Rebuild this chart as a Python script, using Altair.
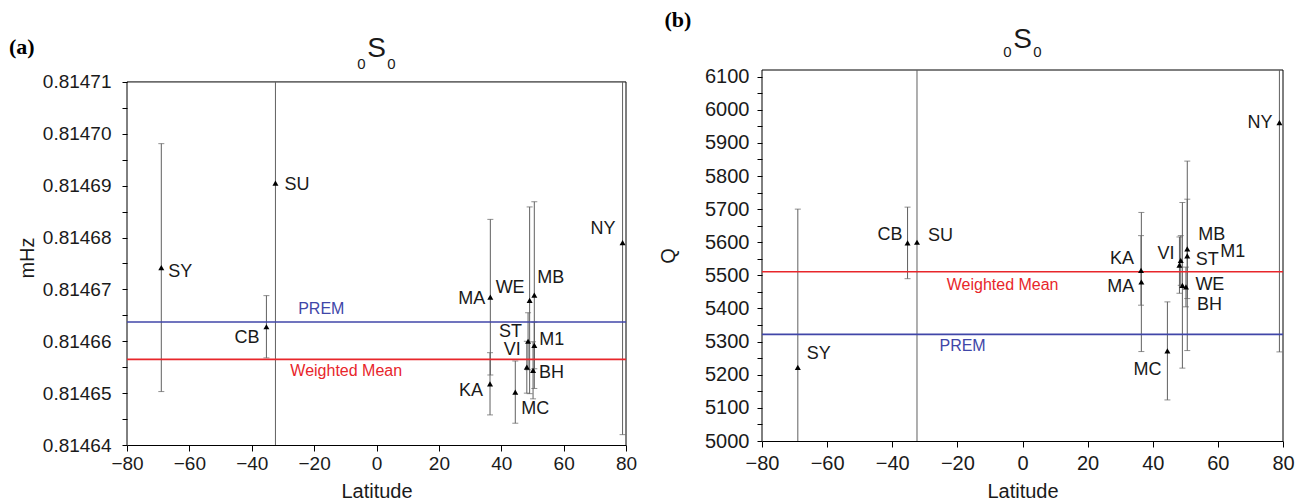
import altair as alt
import pandas as pd

# ---------------- data ----------------
stations = ["SY", "CB", "SU", "KA", "MA", "MC", "VI", "ST", "WE", "BH", "MB", "M1", "NY"]
latitude = [-69.0, -35.3, -32.4, 36.4, 36.5, 44.5, 48.2, 48.6, 49.1, 50.2, 50.6, 50.6, 78.9]

# panel (a): frequency (mHz) and 1-sigma errors
freq_mhz = [0.8146742, 0.8146628, 0.8146905, 0.8146518, 0.8146685, 0.8146502, 0.8146550,
            0.8146600, 0.8146679, 0.8146544, 0.8146689, 0.8146592, 0.8146790]
freq_err = [0.0000239, 0.0000060, 0.0000900, 0.0000060, 0.0000150, 0.0000060, 0.0000050,
            0.0000055, 0.0000180, 0.0000055, 0.0000180, 0.0000045, 0.0000370]

# panel (b): quality factor Q and errors
q_value = [5222, 5598, 5600, 5515, 5480, 5272, 5531, 5545, 5470, 5465, 5580, 5559, 5961]
q_err = [478, 108, 900, 105, 210, 148, 85, 75, 250, 60, 150, 286, 692]

prem_freq = 0.8146637
mean_freq = 0.8146565
prem_q = 5322
mean_q = 5511

lat_ticks = [-80, -60, -40, -20, 0, 20, 40, 60, 80]
freq_ticks = [0.81464, 0.814645, 0.81465, 0.814655, 0.81466, 0.814665, 0.81467, 0.814675,
              0.81468, 0.814685, 0.81469, 0.814695, 0.8147, 0.814705, 0.81471]
q_ticks = [5000, 5050, 5100, 5150, 5200, 5250, 5300, 5350, 5400, 5450, 5500, 5550, 5600,
           5650, 5700, 5750, 5800, 5850, 5900, 5950, 6000, 6050, 6100]

# ---------------- styling ----------------
FONT = "Liberation Sans"
TEXT = "#1a1a1a"
BAR = "#606060"
BLUE = "#4046a8"
RED = "#e8262b"

# label offsets (px) relative to each station's marker
offsets_a = {"SY": (7, 4), "SU": (9, 2), "CB": (-7, 11), "MA": (-5, 2), "WE": (-5, -12),
             "MB": (3, -17), "ST": (-6, -9), "M1": (5, -5), "VI": (-6, -17), "BH": (6, 3),
             "KA": (-7, 7), "MC": (6, 17), "NY": (-7, -14)}
offsets_b = {"SY": (9, -13), "CB": (-5, -8), "SU": (11, -6), "KA": (-7, -11), "MA": (-7, 5),
             "MC": (-6, 19), "VI": (-5, -11), "ST": (15, 0), "M1": (33, -4), "MB": (11, -14),
             "WE": (13, 0), "BH": (11, 18), "NY": (-7, 0)}


def make_panel(values, errors, y_domain, frame_top, y_ticks, y_label_expr, y_title, prem,
               mean, offsets, width, height, prem_lat, prem_dy, mean_lat, mean_dy,
               tag, tag_x, tag_y, s_y, sub_y, y_label_pad, y_title_pad, x_label_pad,
               label_size, dummy):
    df = pd.DataFrame({"station": stations, "lat": latitude, "v": values, "err": errors})
    bottom = y_domain[0]
    xs = alt.Scale(domain=[-80, 80], nice=False)
    ys = alt.Scale(domain=y_domain, nice=False, zero=False)
    x_axis = alt.Axis(values=lat_ticks, title="Latitude", format="d", tickSize=6,
                      labelPadding=x_label_pad, titlePadding=8, labelFlush=False,
                      labelFontSize=label_size)
    y_axis = alt.Axis(values=y_ticks, labelExpr=y_label_expr, title=y_title, tickSize=5,
                      labelPadding=y_label_pad, titlePadding=y_title_pad, domain=False,
                      labelFontSize=label_size)

    def X(f):
        return alt.X(f, type="quantitative", scale=xs, axis=x_axis)

    def Y(f):
        return alt.Y(f, type="quantitative", scale=ys, axis=y_axis)

    # plot frame (left, right, top); bottom is the x-axis line
    frame = pd.DataFrame({"x1": [-80, 80, -80], "x2": [-80, 80, 80],
                          "y1": [bottom, bottom, frame_top],
                          "y2": [frame_top, frame_top, frame_top]})
    frame_rules = alt.Chart(frame).mark_rule(color="black", strokeWidth=1).encode(
        x=X("x1"), x2="x2:Q", y=Y("y1"), y2="y2:Q")

    # error bars limited to the framed area
    base = alt.Chart(df).transform_calculate(
        lo=f"datum.v - datum.err", hi=f"datum.v + datum.err"
    ).transform_calculate(
        lo_c=f"max(datum.lo, {bottom})", hi_c=f"min(datum.hi, {frame_top})"
    )
    bars = base.mark_rule(color=BAR, strokeWidth=1).encode(
        x=X("lat"), y=Y("lo_c"), y2="hi_c:Q")
    cap_lo = base.transform_filter(f"datum.lo > {bottom}").mark_tick(
        color=BAR, orient="horizontal", size=6, thickness=1).encode(x=X("lat"), y=Y("lo"))
    cap_hi = base.transform_filter(f"datum.hi < {frame_top}").mark_tick(
        color=BAR, orient="horizontal", size=6, thickness=1).encode(x=X("lat"), y=Y("hi"))
    pts = alt.Chart(df).mark_point(shape="triangle-up", filled=True, color="black",
                                   size=36, opacity=1).encode(x=X("lat"), y=Y("v"))

    ref = pd.DataFrame({"v": [prem, mean], "kind": ["PREM", "Weighted Mean"],
                        "lat": [prem_lat, mean_lat]})
    prem_line = alt.Chart(ref).transform_filter(alt.datum.kind == "PREM").mark_rule(
        color=BLUE, strokeWidth=1.6).encode(y=Y("v"))
    mean_line = alt.Chart(ref).transform_filter(alt.datum.kind == "Weighted Mean").mark_rule(
        color=RED, strokeWidth=1.6).encode(y=Y("v"))
    prem_txt = alt.Chart(ref).transform_filter(alt.datum.kind == "PREM").mark_text(
        color=BLUE, font=FONT, fontSize=16, dy=prem_dy).encode(
        x=X("lat"), y=Y("v"), text="kind:N")
    mean_txt = alt.Chart(ref).transform_filter(alt.datum.kind == "Weighted Mean").mark_text(
        color=RED, font=FONT, fontSize=16, dy=mean_dy).encode(
        x=X("lat"), y=Y("v"), text="kind:N")

    labels = []
    for s in stations:
        dx, dy = offsets[s]
        labels.append(
            alt.Chart(df).transform_filter(alt.datum.station == s).mark_text(
                font=FONT, fontSize=18, color=TEXT, align="left" if dx > 0 else "right",
                baseline="middle", dx=dx, dy=dy).encode(x=X("lat"), y=Y("v"), text="station:N"))

    one = pd.DataFrame({"k": [0]})
    s_txt = alt.Chart(one).mark_text(text="S", font=FONT, fontSize=28, color=TEXT,
                                     baseline="middle").encode(
        x=alt.value(width / 2), y=alt.value(s_y))
    sub_l = alt.Chart(one).mark_text(text="0", font=FONT, fontSize=15, color=TEXT,
                                     baseline="middle").encode(
        x=alt.value(width / 2 - 15), y=alt.value(sub_y))
    sub_r = alt.Chart(one).mark_text(text="0", font=FONT, fontSize=15, color=TEXT,
                                     baseline="middle").encode(
        x=alt.value(width / 2 + 15), y=alt.value(sub_y))
    tag_txt = alt.Chart(one).mark_text(text=tag, font="Liberation Serif", fontWeight="bold",
                                       fontSize=22, color="black", align="left",
                                       baseline="middle").encode(
        x=alt.value(tag_x), y=alt.value(tag_y))
    dx1, dx2, dyy = dummy
    spacer = alt.Chart(one).mark_rule(color="white", strokeWidth=1).encode(
        x=alt.value(dx1), x2=alt.value(dx2), y=alt.value(dyy), y2=alt.value(dyy))

    return alt.layer(frame_rules, bars, cap_lo, cap_hi, prem_line, mean_line, pts, prem_txt,
                     mean_txt, *labels, s_txt, sub_l, sub_r, tag_txt, spacer).properties(
        width=width, height=height)


# panel (a): frame top sits 12 px below the shared panel origin
panel_a = make_panel(
    freq_mhz, freq_err, [0.81464, 0.8147123], 0.81471, freq_ticks,
    "round(datum.value * 200000) % 2 == 0 ? format(datum.value, '.5f') : ''", "mHz",
    prem_freq, mean_freq, offsets_a, 499, 375,
    prem_lat=-17.7, prem_dy=-13, mean_lat=-9.7, mean_dy=12,
    tag="(a)", tag_x=-118, tag_y=-23, s_y=-21, sub_y=-6,
    y_label_pad=11, y_title_pad=5, x_label_pad=3, label_size=19,
    dummy=(-118, 514, -60))

panel_b = make_panel(
    q_value, q_err, [5000, 6120], 6120, q_ticks,
    "datum.value % 100 == 0 ? format(datum.value, 'd') : ''", "Q",
    prem_q, mean_q, offsets_b, 521, 371,
    prem_lat=-18.4, prem_dy=12, mean_lat=-6.1, mean_dy=13,
    tag="(b)", tag_x=-97.5, tag_y=-50, s_y=-30, sub_y=-18,
    y_label_pad=8, y_title_pad=26, x_label_pad=6, label_size=20,
    dummy=(-118.5, -117.5, -60))

chart = alt.hconcat(panel_a, panel_b, spacing=0, padding=0).configure_view(
    stroke="transparent"
).configure_axis(
    domainColor="black", tickColor="black", domainWidth=1, tickWidth=1, grid=False,
    labelFont=FONT, titleFont=FONT, labelColor=TEXT, titleColor=TEXT,
    titleFontSize=20, titleFontWeight="normal"
)

chart.save("out.html", embed_options={"renderer": "svg", "actions": False})
